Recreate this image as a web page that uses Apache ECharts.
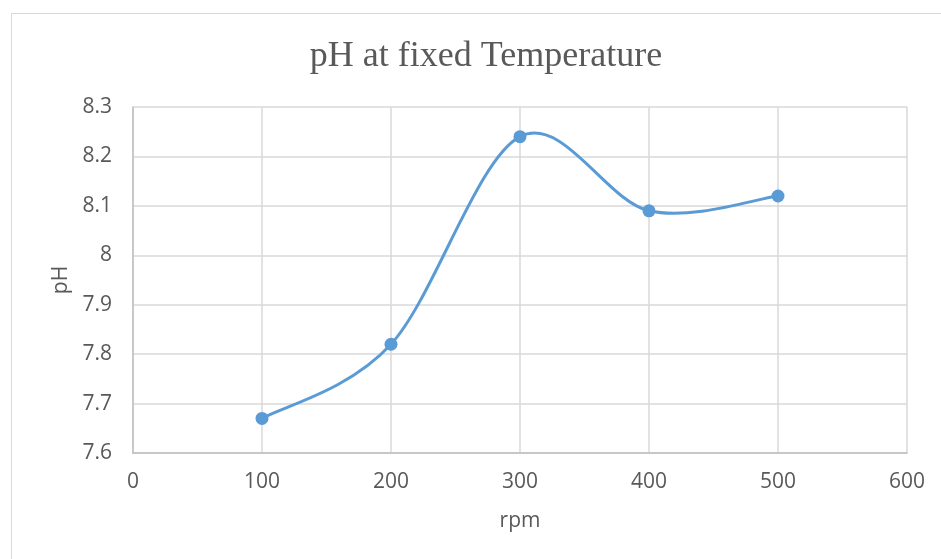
<!DOCTYPE html>
<html><head><meta charset="utf-8">
<script src="https://cdn.jsdelivr.net/npm/echarts@6/dist/echarts.min.js"></script>
<style>html,body{margin:0;padding:0;background:#fff}#c{width:941px;height:559px}
#b{position:absolute;left:11px;top:13px;width:1000px;height:600px;border:1px solid #d9d9d9;pointer-events:none}</style>
</head><body><div id="c"></div><div id="b"></div>
<script>
const rpm = [100, 200, 300, 400, 500];
const ph = [7.67, 7.82, 8.24, 8.09, 8.12];
const title = 'pH at fixed Temperature';
const chart = echarts.init(document.getElementById('c'));
const lab = {color:'#595959', fontFamily:'"Open Sans", sans-serif', fontSize:21};
const pts = rpm.map((x,i)=>[x, ph[i]]);
function renderCurve(params, api){
  const p = pts.map(d=>api.coord(d));
  let d = 'M' + p[0][0] + ' ' + p[0][1];
  for (let i=0;i<p.length-1;i++){
    const p0 = p[Math.max(i-1,0)], p1 = p[i], p2 = p[i+1], p3 = p[Math.min(i+2,p.length-1)];
    const c1 = [p1[0] + (p2[0]-p0[0])/6, p1[1] + (p2[1]-p0[1])/6];
    const c2 = [p2[0] - (p3[0]-p1[0])/6, p2[1] - (p3[1]-p1[1])/6];
    d += ' C' + c1[0]+' '+c1[1]+' '+c2[0]+' '+c2[1]+' '+p2[0]+' '+p2[1];
  }
  return {type:'path', shape:{pathData:d}, style:{fill:null, stroke:'#5b9bd5', lineWidth:3, lineCap:'round', lineJoin:'round'}};
}
chart.setOption({
  animation:false,
  title:{text:title, left:481, textAlign:'center', top:34, textStyle:{fontFamily:'"Liberation Serif", serif', fontWeight:'normal', fontSize:36, color:'#595959'}},
  grid:{left:133, right:34, top:107, bottom:106},
  xAxis:{type:'value', min:0, max:600, interval:100, name:'rpm', nameLocation:'middle', nameGap:58, nameTextStyle:lab,
    axisLine:{lineStyle:{color:'#bfbfbf', width:1.5}}, axisTick:{show:false}, axisLabel:Object.assign({margin:19}, lab),
    splitLine:{lineStyle:{color:'#d9d9d9', width:1.5}}},
  yAxis:{type:'value', min:7.6, max:8.3, interval:0.1, name:'pH', nameLocation:'middle', nameGap:60, nameTextStyle:lab,
    axisLine:{show:true, lineStyle:{color:'#bfbfbf', width:1.5}}, axisTick:{show:false},
    axisLabel:Object.assign({margin:21, formatter:v=>String(Math.round(v*10)/10)}, lab),
    splitLine:{lineStyle:{color:'#d9d9d9', width:1.5}}},
  series:[
    {type:'custom', data:[pts[0]], encode:{x:0,y:1}, renderItem:renderCurve, z:2, silent:true},
    {type:'scatter', data:pts, symbol:'circle', symbolSize:13, itemStyle:{color:'#5b9bd5', opacity:1}, z:3}
  ]
});
</script></body></html>
